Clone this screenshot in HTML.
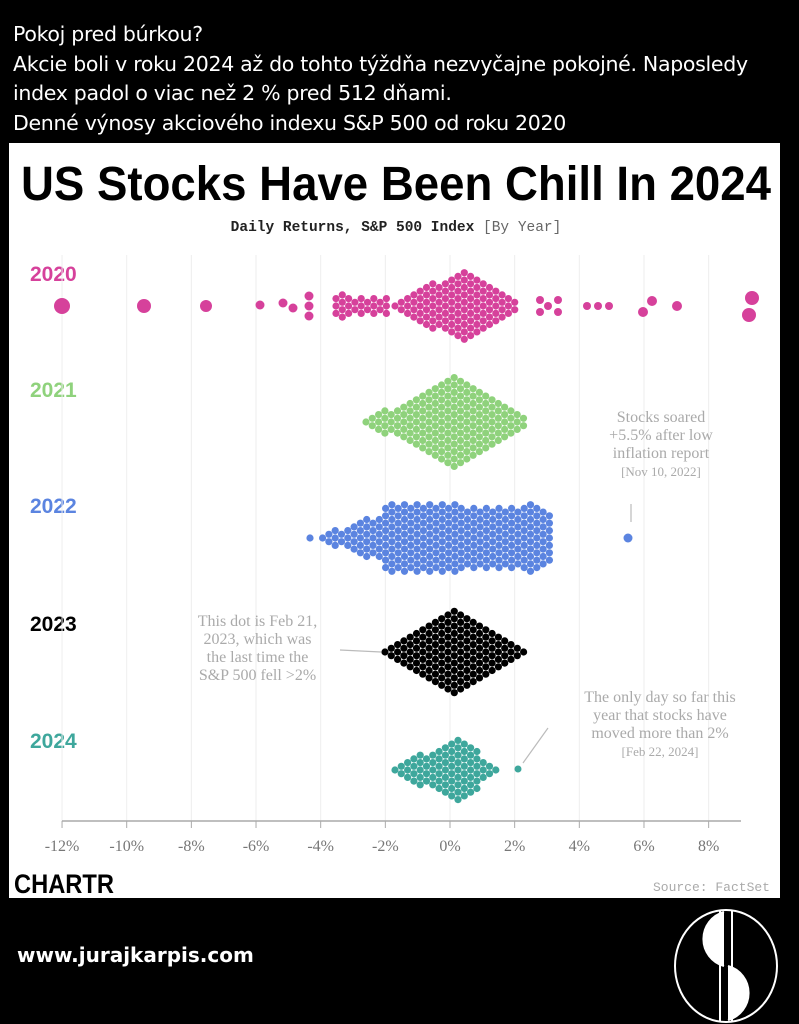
<!DOCTYPE html><html><head><meta charset="utf-8"><style>
body{margin:0;width:799px;height:1024px;background:#000;position:relative;overflow:hidden;font-family:"Liberation Sans",sans-serif}
.hd{position:absolute;left:13px;top:20px;color:#fff;font-family:"DejaVu Sans",sans-serif;font-size:20.5px;line-height:29.5px;letter-spacing:-0.3px}
.panel{position:absolute;left:9px;top:143px;width:771px;height:755px;background:#fff}
.ann{position:absolute;color:#aaa;font-family:"Liberation Serif",serif;font-size:16px;line-height:18px;text-align:center}
</style></head><body>
<div class="hd">Pokoj pred búrkou?<br>Akcie boli v roku 2024 až do tohto týždňa nezvyčajne pokojné. Naposledy<br>index padol o viac než 2 % pred 512 dňami.<br>Denné výnosy akciového indexu S&amp;P 500 od roku 2020</div>
<div class="panel"></div>
<svg id="s" width="799" height="1024" style="position:absolute;left:0;top:0">
<text x="396" y="200" text-anchor="middle" font-family="Liberation Sans Narrow,Liberation Sans,sans-serif" font-weight="bold" font-size="48" textLength="750" lengthAdjust="spacingAndGlyphs">US Stocks Have Been Chill In 2024</text>
<text x="396" y="231" text-anchor="middle" font-family="Liberation Mono,monospace" font-size="14.5"><tspan font-weight="bold" fill="#222">Daily Returns, S&amp;P 500 Index</tspan><tspan fill="#666"> [By Year]</tspan></text>
<g font-weight="bold" font-size="21">
<text x="30" y="281" fill="#d6419b">2020</text>
<text x="30" y="397" fill="#8fd27c">2021</text>
<text x="30" y="513" fill="#5b84e0">2022</text>
<text x="30" y="631" fill="#000">2023</text>
<text x="30" y="748" fill="#3ea79c">2024</text></g>
<g id="grid" stroke="#eee" stroke-width="1"></g>
<line x1="62" y1="821" x2="741" y2="821" stroke="#aaa" stroke-width="1.5"/>
<g id="ticks" font-family="Liberation Serif,serif" font-size="16" fill="#777" text-anchor="middle"></g>
<g id="dots"></g>
<text x="14" y="893" font-family="Liberation Sans" font-weight="bold" font-size="27" textLength="100" lengthAdjust="spacingAndGlyphs">CHARTR</text>
<text x="770" y="891" text-anchor="end" font-family="Liberation Mono,monospace" font-size="13" fill="#aaa">Source: FactSet</text>
<text x="17" y="962" font-family="DejaVu Sans,sans-serif" font-weight="bold" font-size="20" fill="#fff">www.jurajkarpis.com</text>
<g stroke="#fff" stroke-width="2" fill="none">
<ellipse cx="726" cy="966" rx="51" ry="56"/>
<path d="M724 912 A28 28 0 0 0 724 966" fill="#fff"/>
<path d="M728 966 A28 28 0 0 1 728 1020" fill="#fff"/>
<line x1="720" y1="911" x2="720" y2="1021"/><line x1="732" y1="911" x2="732" y2="1021"/>
</g>
<g stroke="#bbb" stroke-width="1.2" fill="none">
<path d="M631 504 L631 522"/><path d="M340 650 L381 652"/><path d="M548 728 L523 763"/>
</g>
</svg>
<div class="ann" style="left:596px;top:409px;width:130px">Stocks soared<br>+5.5% after low<br>inflation report<br><span style="font-size:13px">[Nov 10, 2022]</span></div>
<div class="ann" style="left:170px;top:613px;width:175px">This dot is Feb 21,<br>2023, which was<br>the last time the<br>S&amp;P 500 fell &gt;2%</div>
<div class="ann" style="left:555px;top:689px;width:210px">The only day so far this<br>year that stocks have<br>moved more than 2%<br><span style="font-size:13px">[Feb 22, 2024]</span></div>
<script>
var NS="http://www.w3.org/2000/svg";
function el(p,t,a){var e=document.createElementNS(NS,t);for(var k in a)e.setAttribute(k,a[k]);p.appendChild(e);return e}
var X=function(p){return 450+p*32.33};
var g=document.getElementById('grid'),tk=document.getElementById('ticks'),d=document.getElementById('dots');
for(var p=-12;p<=8;p+=2){var x=X(p);el(g,'line',{x1:x,y1:255,x2:x,y2:821});el(tk,'line',{x1:x,y1:821,x2:x,y2:828,stroke:'#aaa'});var t=el(tk,'text',{x:x,y:851});t.textContent=p+'%';}
function swarm(cy,col,x0,x1,h,r){var dx=6.3,dy=7.4;r=r||3.3;var i=0;
 for(var x=x0;x<=x1;x+=dx,i++){var hh=h(x);var off=(i%2)?dy/2:0;
  for(var y=off;y<=hh;y+=dy){el(d,'circle',{cx:x,cy:cy+y,r:r,fill:col});if(y>0)el(d,'circle',{cx:x,cy:cy-y,r:r,fill:col});}}}
function diamond(c,wL,wR,H){return function(x){var f=x<c?1-(c-x)/wL:1-(x-c)/wR;return Math.max(0,f)*H}}
function dot(x,y,r,c){el(d,'circle',{cx:x,cy:y,r:r,fill:c})}
var P='#d6419b';
swarm(306,P,395,520,diamond(462,75,62,37),3.6);
swarm(306,P,336,392,function(x){return ((Math.round(x)%3)==0)?12:8},3.6);
[[62,306,8],[144,306,7],[206,306,6],[260,305,4.5],[283,303,4.5],[293,308,4.5],[309,296,4.5],[309,306,4.5],[309,316,4.5],[540,300,4],[540,312,4],[548,306,4],[558,300,4],[558,312,4],[587,306,4],[598,306,4],[609,306,4],[643,312,5],[652,301,5],[677,306,5],[752,298,7],[749,315,7]].forEach(function(a){dot(a[0],a[1],a[2],P)});
swarm(422,'#8fd27c',366,528,diamond(455,92,76,48),3.6);
swarm(538,'#5b84e0',310,552,function(x){if(x<380)return (x-310)/70*24;if(x>530)return 34-(x-530)*0.6;return 34-Math.abs(x-420)*0.02},3.6);
dot(628,538,4.5,'#5b84e0');
swarm(652,'#000',385,525,diamond(455,72,72,46),3.6);
swarm(770,'#3ea79c',395,502,diamond(455,62,49,34),3.6);
dot(518,769,3.5,'#3ea79c');
</script>
</body></html>
